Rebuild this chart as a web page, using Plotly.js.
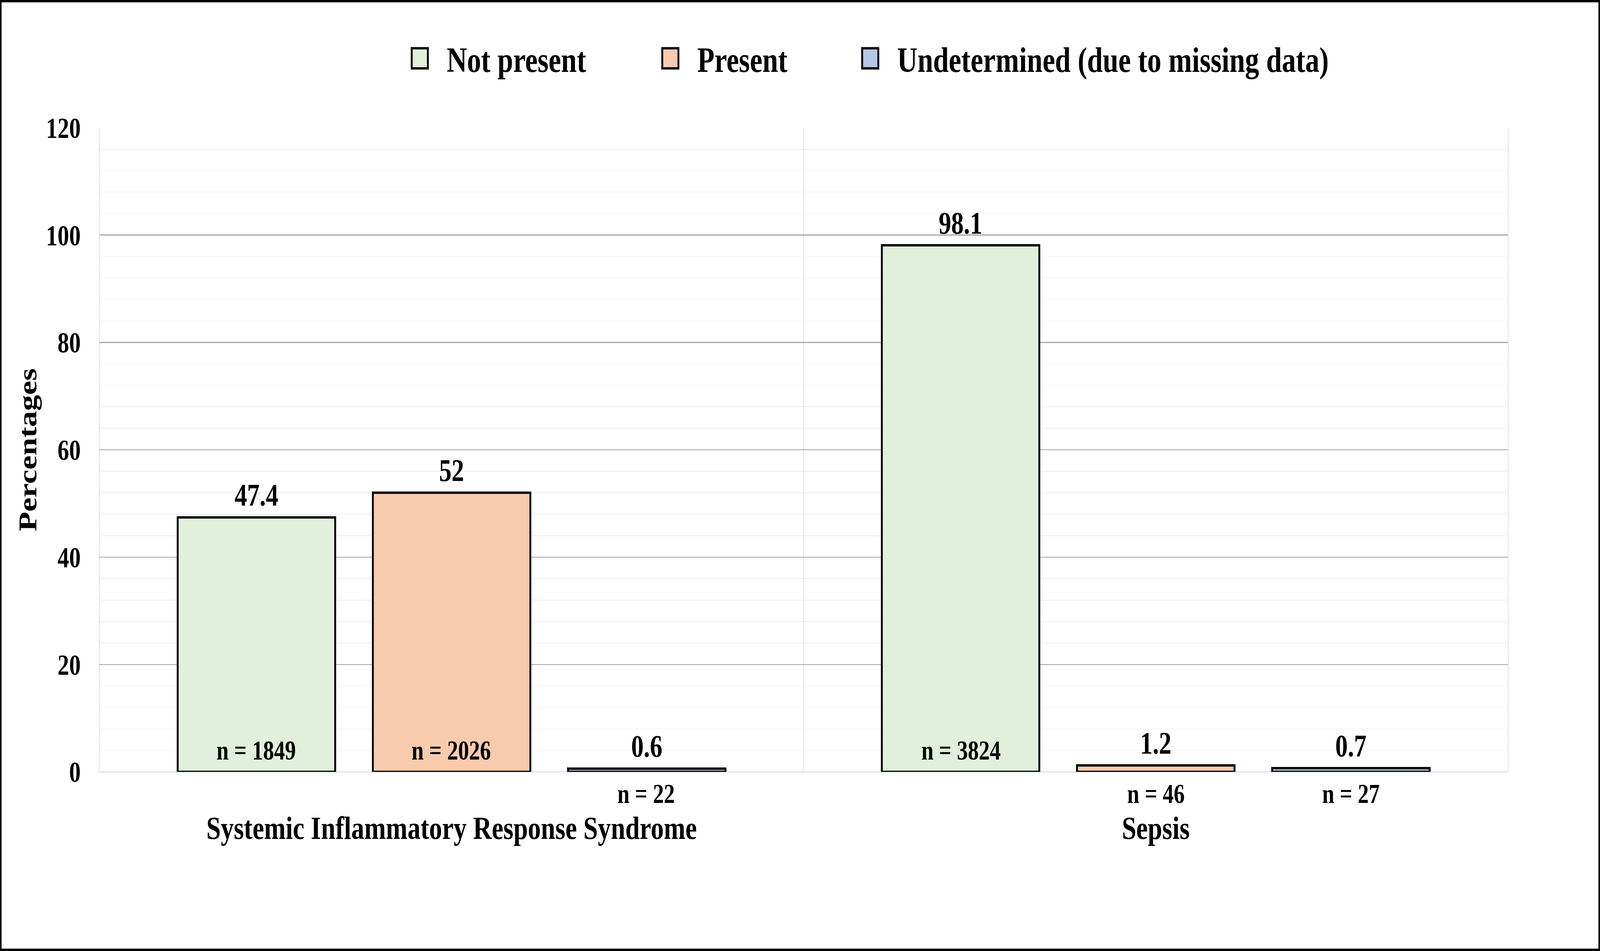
<!DOCTYPE html>
<html>
<head>
<meta charset="utf-8">
<script src="https://cdn.plot.ly/plotly-3.0.1.min.js"></script>
<style>
  html, body { margin: 0; padding: 0; background: #fff; overflow: hidden; }
  #page { position: relative; overflow: hidden; }
  #chart { position: absolute; left: 0; top: 0; transform-origin: 0 0; }
  #frame { position: absolute; left: 0; top: 0; box-sizing: border-box;
           border-style: solid; border-color: #000; pointer-events: none; }
</style>
</head>
<body>
<div id="page"><div id="chart"></div><div id="frame"></div></div>
<script>
const categories = ["Systemic Inflammatory Response Syndrome", "Sepsis"];
const seriesNames = ["Not present", "Present", "Undetermined (due to missing data)"];

// percentages
const notPresent = [47.4, 98.1];
const present = [52, 1.2];
const undetermined = [0.6, 0.7];

// counts shown under / inside the bars
const notPresentN = [1849, 3824];
const presentN = [2026, 46];
const undeterminedN = [22, 27];

const seriesColors = ["#e2efda", "#f8cbad", "#b4c7e7"];

// design size of the original picture; the figure is laid out at 1/S of it
// and scaled up with css so the legend swatches end up as big as the original.
// the scale also stretches to whatever window we really get.
const figW = 5115;
const figH = 2434;
const S = 4.3;
const px = (v) => v / S;

const serif = "Liberation Serif, 'Times New Roman', serif";
const bargap = 0.1685;
const bargroupgap = 0.193;

// plot box in design px: top of y axis, y = 0 line, and where the
// category names hang from (a bit lower than the zero line)
const plotTop = 328;
const zeroY = 1974;
const catAxisY = 2058;

const values = [notPresent, present, undetermined];
const counts = [notPresentN, presentN, undeterminedN];
// distance between legend entries (design px), 0 = from text width
const legendPitch = [801, 639, 0];

const traces = seriesNames.map((name, k) => ({
  type: "bar",
  name: name,
  x: categories,
  y: values[k],
  text: values[k].map(String),
  textposition: "outside",
  textfont: { family: serif, size: px(80), color: "#000", weight: 700 },
  marker: { color: seriesColors[k], line: { color: "#000", width: px(6) } },
  legendwidth: legendPitch[k] ? px(legendPitch[k]) - 45 : undefined,
  cliponaxis: false,
  hoverinfo: "skip",
}));

// n = ... labels, inside the base of tall bars, under the axis for short ones
const slot = (1 - bargap) / seriesNames.length;
const annotations = [];
counts.forEach((arr, k) => {
  arr.forEach((n, i) => {
    const inside = values[k][i] > 10;
    annotations.push({
      x: i + (k - 1) * slot,
      y: 0,
      xref: "x",
      yref: "y",
      text: "n = " + n,
      showarrow: false,
      font: { family: serif, size: px(70), color: "#000", weight: 700 },
      yanchor: inside ? "bottom" : "top",
      yshift: inside ? px(6) : px(-10),
    });
  });
});

const paperH = catAxisY - plotTop;

const layout = {
  width: figW / S,
  height: figH / S,
  margin: { l: px(320), r: px(297), t: px(plotTop), b: px(figH - catAxisY), pad: 0 },
  paper_bgcolor: "#fff",
  plot_bgcolor: "#fff",
  barmode: "group",
  bargap: bargap,
  bargroupgap: bargroupgap,
  font: { family: serif, color: "#000" },
  showlegend: true,
  legend: {
    orientation: "h",
    xref: "container",
    yref: "container",
    x: 1256 / figW,
    y: 1 - 151 / figH,
    xanchor: "left",
    yanchor: "middle",
    font: { family: serif, size: px(90), color: "#000", weight: 700 },
    bgcolor: "rgba(0,0,0,0)",
    traceorder: "normal",
  },
  xaxis: {
    type: "category",
    tickson: "boundaries",
    ticks: "",
    anchor: "free",
    position: 0,
    showgrid: true,
    gridcolor: "#dde3ea",
    gridwidth: px(2.5),
    showline: false,
    zeroline: false,
    tickfont: { family: serif, size: px(83), color: "#000", weight: 700 },
    automargin: false,
    fixedrange: true,
  },
  yaxis: {
    domain: [(catAxisY - zeroY) / paperH, 1],
    range: [0, 120],
    tick0: 0,
    dtick: 20,
    showgrid: true,
    gridcolor: "#a5a5a5",
    gridwidth: px(2.5),
    minor: { dtick: 4, showgrid: true, gridcolor: "#eeeeee", gridwidth: px(1.5) },
    zeroline: true,
    zerolinecolor: "#dde1e7",
    zerolinewidth: px(3),
    showline: true,
    mirror: true,
    linecolor: "#dde3ea",
    linewidth: px(2.5),
    // invisible ticks keep the labels away from the plot edge
    ticks: "outside",
    ticklen: px(43),
    tickcolor: "rgba(0,0,0,0)",
    tickfont: { family: serif, size: px(74), color: "#000", weight: 700 },
    title: {
      text: "Percentages",
      font: { family: serif, size: px(82), color: "#000", weight: 700 },
      standoff: px(4),
    },
    automargin: false,
    fixedrange: true,
  },
  annotations: annotations,
};

const vw = window.innerWidth;
const vh = window.innerHeight;
const sx = vw / figW;
const sy = vh / figH;

const page = document.getElementById("page");
page.style.width = vw + "px";
page.style.height = vh + "px";

const frame = document.getElementById("frame");
frame.style.width = vw + "px";
frame.style.height = vh + "px";
frame.style.borderWidth = 6 * sy + "px " + 6 * sx + "px";

const chart = document.getElementById("chart");
chart.style.transform = "scale(" + S * sx + "," + S * sy + ")";
Plotly.newPlot(chart, traces, layout, { staticPlot: true, displayModeBar: false });
</script>
</body>
</html>
